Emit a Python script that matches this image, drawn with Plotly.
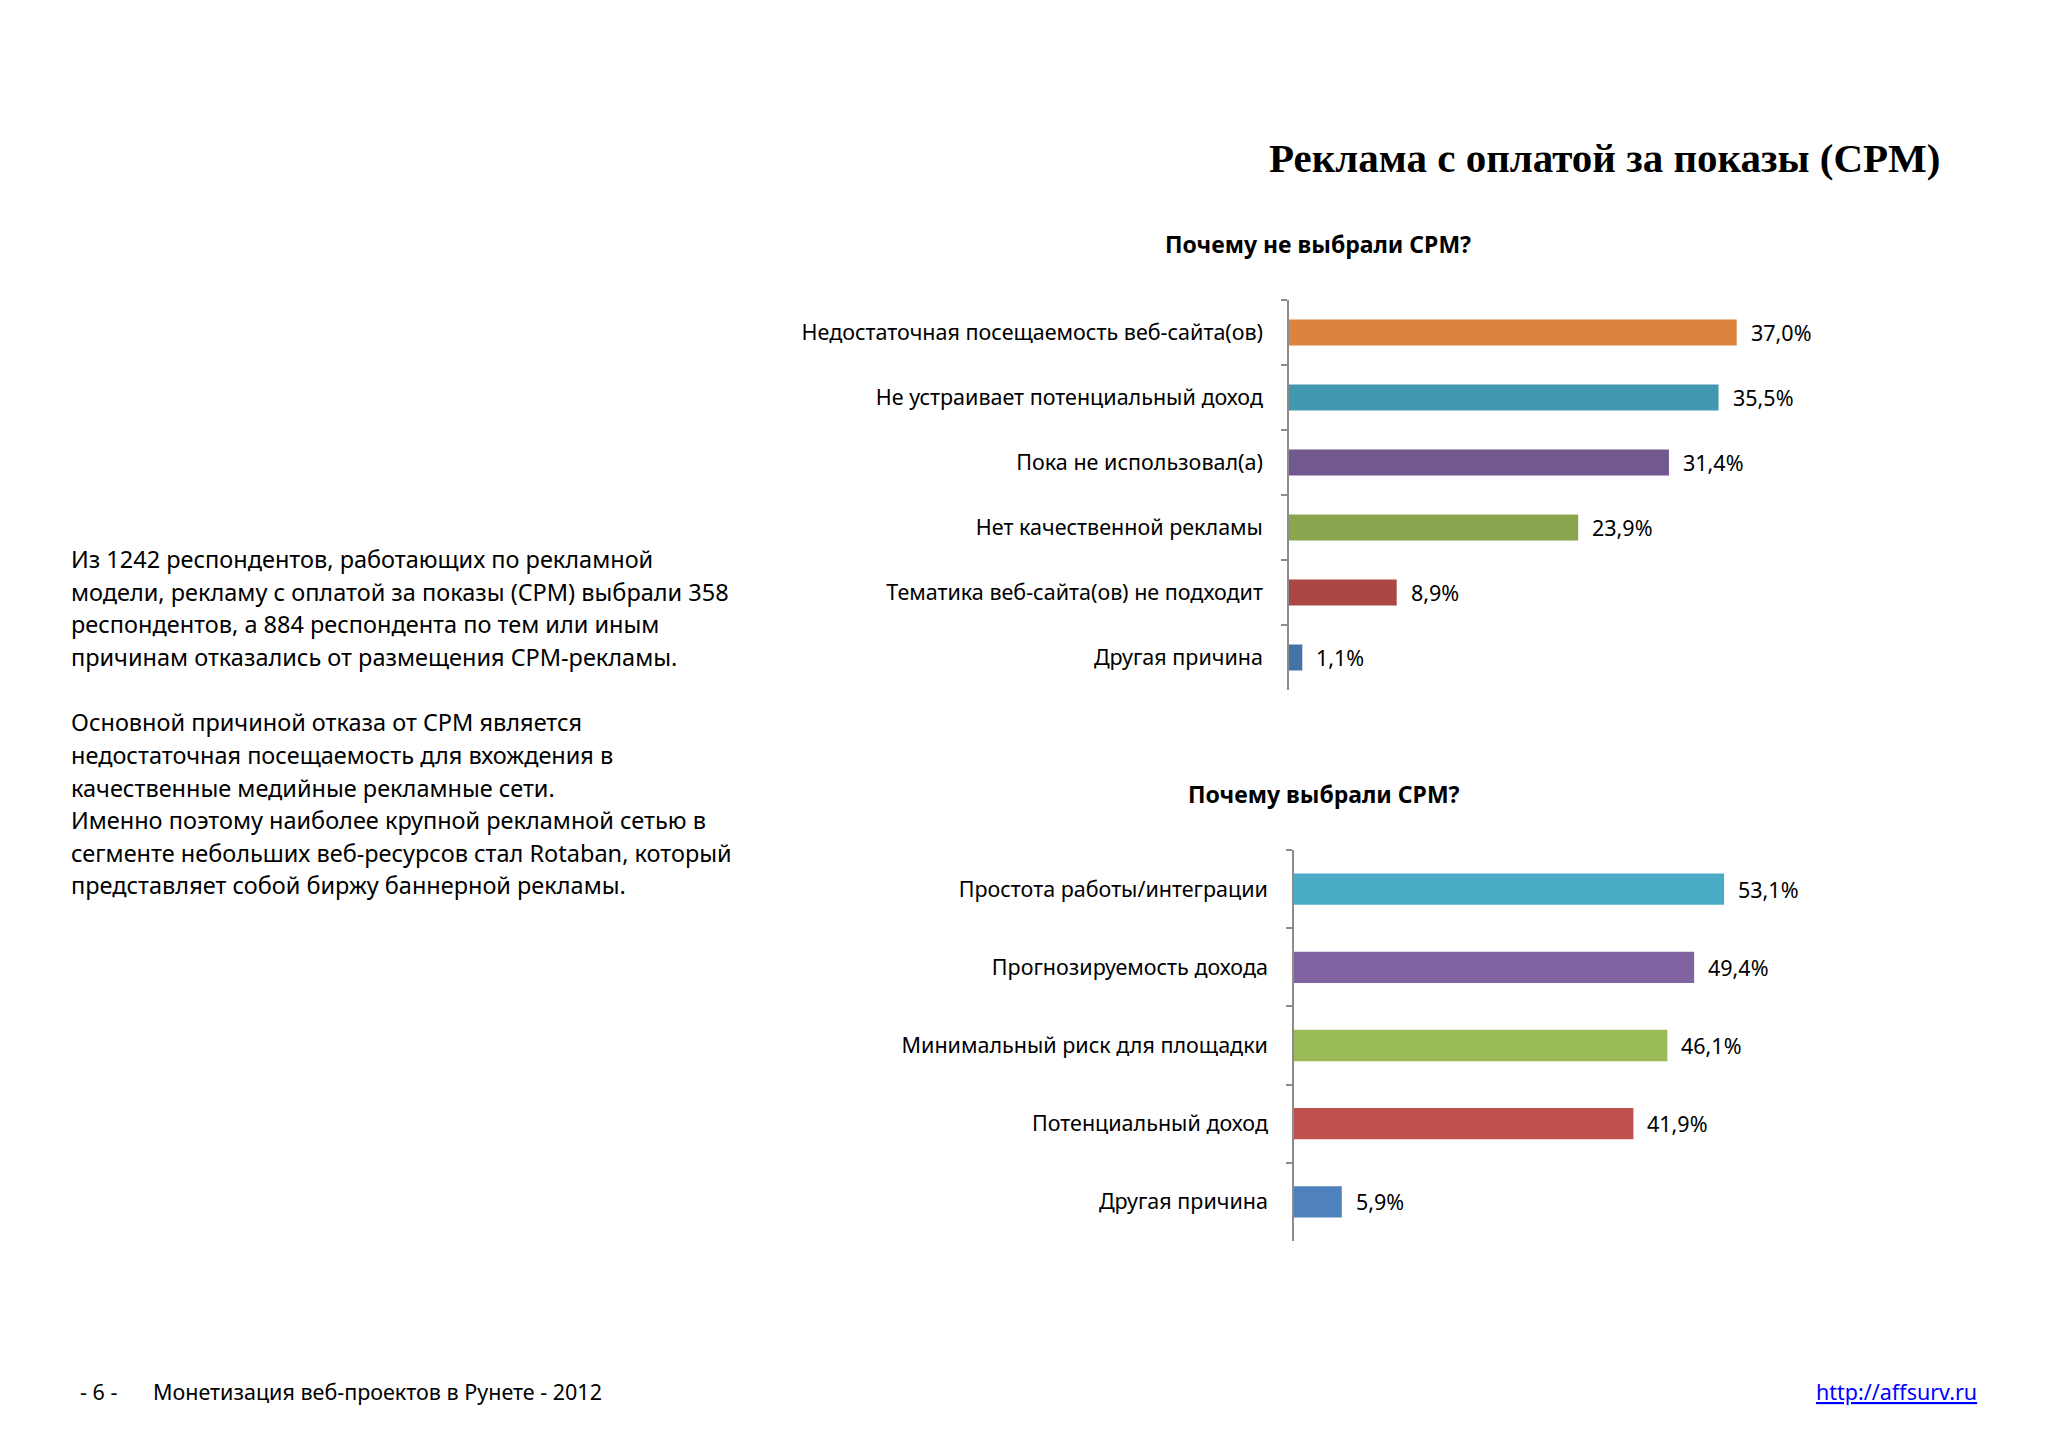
import plotly.graph_objects as go

W, H = 2048, 1448

# ---- data ----
top_title = "Почему не выбрали CPM?"
top_cats = [
    "Недостаточная посещаемость веб-сайта(ов)",
    "Не устраивает потенциальный доход",
    "Пока не использовал(а)",
    "Нет качественной рекламы",
    "Тематика веб-сайта(ов) не подходит",
    "Другая причина",
]
top_vals = [37.0, 35.5, 31.4, 23.9, 8.9, 1.1]
top_colors = ["#DB843D", "#4198AF", "#71588F", "#89A54E", "#AA4643", "#4572A7"]

bot_title = "Почему выбрали CPM?"
bot_cats = [
    "Простота работы/интеграции",
    "Прогнозируемость дохода",
    "Минимальный риск для площадки",
    "Потенциальный доход",
    "Другая причина",
]
bot_vals = [53.1, 49.4, 46.1, 41.9, 5.9]
bot_colors = ["#4BACC6", "#8064A2", "#9BBB59", "#C0504D", "#4F81BD"]

main_title = "Реклама с оплатой за показы (CPM)"
body_lines = [
    "Из 1242 респондентов, работающих по рекламной",
    "модели, рекламу с оплатой за показы (CPM) выбрали 358",
    "респондентов, а 884 респондента по тем или иным",
    "причинам отказались от размещения CPM-рекламы.",
    "",
    "Основной причиной отказа от CPM является",
    "недостаточная посещаемость для вхождения в",
    "качественные медийные рекламные сети.",
    "Именно поэтому наиболее крупной рекламной сетью в",
    "сегменте небольших веб-ресурсов стал Rotaban, который",
    "представляет собой биржу баннерной рекламы.",
]
footer_page = "- 6 -"
footer_text = "Монетизация веб-проектов в Рунете - 2012"
footer_url = "http://affsurv.ru"


def fmt(v):
    return f"{v:.1f}".replace(".", ",") + "%"


OFF = 8  # page body margin


def px(x):
    return (x - OFF) / W


def py(y):
    return 1 - (y - OFF) / H


FONT = "Noto Sans"
LBL = 21.5

fig = go.Figure()
fig.add_trace(go.Bar(
    x=top_vals, y=top_cats, orientation="h", width=0.4,
    marker=dict(color=top_colors, line=dict(width=0)),
    xaxis="x", yaxis="y", showlegend=False, hoverinfo="skip",
))
fig.add_trace(go.Bar(
    x=bot_vals, y=bot_cats, orientation="h", width=0.4,
    marker=dict(color=bot_colors, line=dict(width=0)),
    xaxis="x2", yaxis="y2", showlegend=False, hoverinfo="skip",
))

annotations = []
for c, v in zip(top_cats, top_vals):
    annotations.append(dict(x=v, y=c, xref="x", yref="y", text=fmt(v), showarrow=False,
                            xanchor="left", xshift=12, font=dict(family=FONT, size=LBL, color="#000")))
for c, v in zip(bot_cats, bot_vals):
    annotations.append(dict(x=v, y=c, xref="x2", yref="y2", text=fmt(v), showarrow=False,
                            xanchor="left", xshift=12, font=dict(family=FONT, size=LBL, color="#000")))

# titles
annotations.append(dict(x=px(1942), y=py(158), xref="paper", yref="paper", text="<b>" + main_title + "</b>",
                        showarrow=False, xanchor="right", yanchor="middle",
                        font=dict(family="Liberation Serif", size=41, color="#000")))
annotations.append(dict(x=px(1318), y=py(244), xref="paper", yref="paper", text="<b>" + top_title + "</b>",
                        showarrow=False, xanchor="center", yanchor="middle",
                        font=dict(family=FONT, size=23, color="#000")))
annotations.append(dict(x=px(1324), y=py(794), xref="paper", yref="paper", text="<b>" + bot_title + "</b>",
                        showarrow=False, xanchor="center", yanchor="middle",
                        font=dict(family=FONT, size=23, color="#000")))

# body text
for i, line in enumerate(body_lines):
    if not line:
        continue
    annotations.append(dict(x=px(69), y=py(559 + i * 32.65), xref="paper", yref="paper", text=line,
                            showarrow=False, xanchor="left", yanchor="middle",
                            font=dict(family=FONT, size=23.5, color="#000")))

# footer
annotations.append(dict(x=px(78), y=py(1391), xref="paper", yref="paper", text=footer_page,
                        showarrow=False, xanchor="left", yanchor="middle",
                        font=dict(family=FONT, size=21.5, color="#000")))
annotations.append(dict(x=px(151), y=py(1391), xref="paper", yref="paper", text=footer_text,
                        showarrow=False, xanchor="left", yanchor="middle",
                        font=dict(family=FONT, size=21.5, color="#000")))
annotations.append(dict(x=px(1979), y=py(1391), xref="paper", yref="paper", text="<u>" + footer_url + "</u>",
                        showarrow=False, xanchor="right", yanchor="middle",
                        font=dict(family=FONT, size=21.5, color="#0000FF")))

axis_common = dict(showline=True, linecolor="#8C8C8C", linewidth=1.5, ticks="outside", ticklen=6,
                   tickcolor="#8C8C8C", tickwidth=1.5, tickson="boundaries", showgrid=False,
                   zeroline=False, ticklabelstandoff=20,
                   tickfont=dict(family=FONT, size=LBL, color="#000"), fixedrange=True)

fig.update_layout(
    width=W, height=H, margin=dict(l=0, r=0, t=0, b=0),
    paper_bgcolor="white", plot_bgcolor="white",
    xaxis=dict(domain=[px(1289), px(1289 + 12.1 * 45)], range=[0, 45], visible=False),
    yaxis=dict(domain=[py(690), py(300)], range=[len(top_cats) - 0.5, -0.5],
               categoryorder="array", categoryarray=top_cats, anchor="x", **axis_common),
    xaxis2=dict(domain=[px(1294), px(1294 + 8.1 * 60)], range=[0, 60], visible=False, anchor="y2"),
    yaxis2=dict(domain=[py(1241), py(850)], range=[len(bot_cats) - 0.5, -0.5],
                categoryorder="array", categoryarray=bot_cats, anchor="x2", **axis_common),
    annotations=annotations,
)

fig.write_html("out.html")
